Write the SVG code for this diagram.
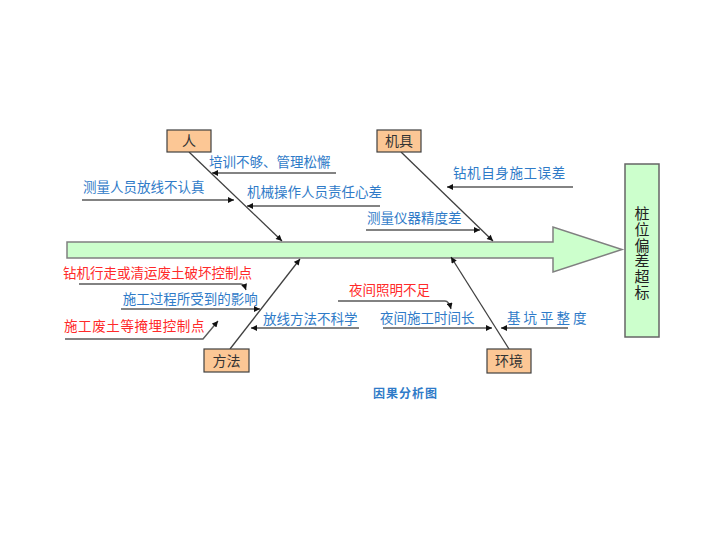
<svg xmlns="http://www.w3.org/2000/svg" width="720" height="542" viewBox="0 0 720 542">
<defs>
<style>
.t{font-family:"Noto Sans CJK SC","Liberation Sans",sans-serif;font-size:13.5px}
.b{fill:#2F7BC8}
.r{fill:#FF2A2A}
.box{fill:#FCC795;stroke:#404040;stroke-width:1.2}
.bl{font-family:"Noto Sans CJK SC","Liberation Sans",sans-serif;font-size:14px;fill:#333;text-anchor:middle}
.sp{fill:none;stroke:#404040;stroke-width:1.3;marker-end:url(#ah)}
.sb{fill:none;stroke:#5a5a5a;stroke-width:1.4;marker-end:url(#ah)}
</style>
<marker id="ah" viewBox="0 0 10 10" refX="10" refY="5" markerWidth="7" markerHeight="6" orient="auto" markerUnits="userSpaceOnUse">
<path d="M0,0 L10,5 L0,10 z" fill="#111"/>
</marker>
</defs>
<rect width="720" height="542" fill="#fff"/>
<g id="spine">
<polygon points="67,242 553,242 553,227 622,249.5 553,272 553,258 67,258" fill="#CCFFCC" stroke="#808080" stroke-width="1.5"/>
</g>
<g id="effect">
<rect x="625" y="164" width="34" height="173" fill="#CCFFCC" stroke="#666" stroke-width="1.5"/>
<text x="642" y="206" writing-mode="vertical-rl" font-family="'Noto Sans CJK SC',sans-serif" font-size="15" letter-spacing="0.7" fill="#222">桩位偏差超标</text>
</g>
<g id="connectors">
<path class="sp" d="M189,152 L282,241"/>
<path class="sp" d="M401,152 L493,241"/>
<path class="sp" d="M230,349 L300,259"/>
<path class="sp" d="M509,349 L451,257"/>
<path class="sb" d="M336,173 L212,173"/>
<path class="sb" d="M82,200 L234,200"/>
<path class="sb" d="M380,206 L247,206"/>
<path class="sb" d="M366,230 L480,230"/>
<path class="sb" d="M573,187 L447,187"/>
<path class="sb" d="M79,284 L241,284 Q244,284 246,290"/>
<path class="sb" d="M121,309 L260,309"/>
<path class="sb" d="M65,339 L203,339 L218,321"/>
<path class="sb" d="M359,328 L251,328"/>
<path class="sb" d="M338,301 L445,301 Q449,301 451,309"/>
<path class="sb" d="M383,328 L492,328"/>
<path class="sb" d="M568,328 L501,328"/>
</g>
<g id="n-ren"><rect class="box" x="167" y="130" width="44" height="22"/><text class="bl" x="189" y="146">人</text></g>
<g id="n-jiju"><rect class="box" x="377" y="130" width="44" height="22"/><text class="bl" x="399" y="146">机具</text></g>
<g id="n-fangfa"><rect class="box" x="204" y="349" width="45" height="23"/><text class="bl" x="226.5" y="365.5">方法</text></g>
<g id="n-huanjing"><rect class="box" x="487" y="349" width="44" height="24"/><text class="bl" x="509" y="366">环境</text></g>
<g id="labels">
<text class="t b" x="209" y="166.5">培训不够、管理松懈</text>
<text class="t b" x="83" y="191.5">测量人员放线不认真</text>
<text class="t b" x="247" y="196.5">机械操作人员责任心差</text>
<text class="t b" x="367" y="223">测量仪器精度差</text>
<text class="t b" x="453" y="178" letter-spacing="0.6">钻机自身施工误差</text>
<text class="t r" x="63" y="277.5">钻机行走或清运废土破坏控制点</text>
<text class="t b" x="122.7" y="304">施工过程所受到的影响</text>
<text class="t r" x="64" y="331" letter-spacing="0.6">施工废土等掩埋控制点</text>
<text class="t b" x="263" y="324">放线方法不科学</text>
<text class="t r" x="349" y="295">夜间照明不足</text>
<text class="t b" x="380" y="323">夜间施工时间长</text>
<text class="t b" x="507" y="323">基 坑 平 整 度</text>
<text x="373" y="397.5" font-family="'Noto Sans CJK SC',sans-serif" font-size="12" font-weight="bold" fill="#2F7BC8" letter-spacing="1">因果分析图</text>
</g>
</svg>
